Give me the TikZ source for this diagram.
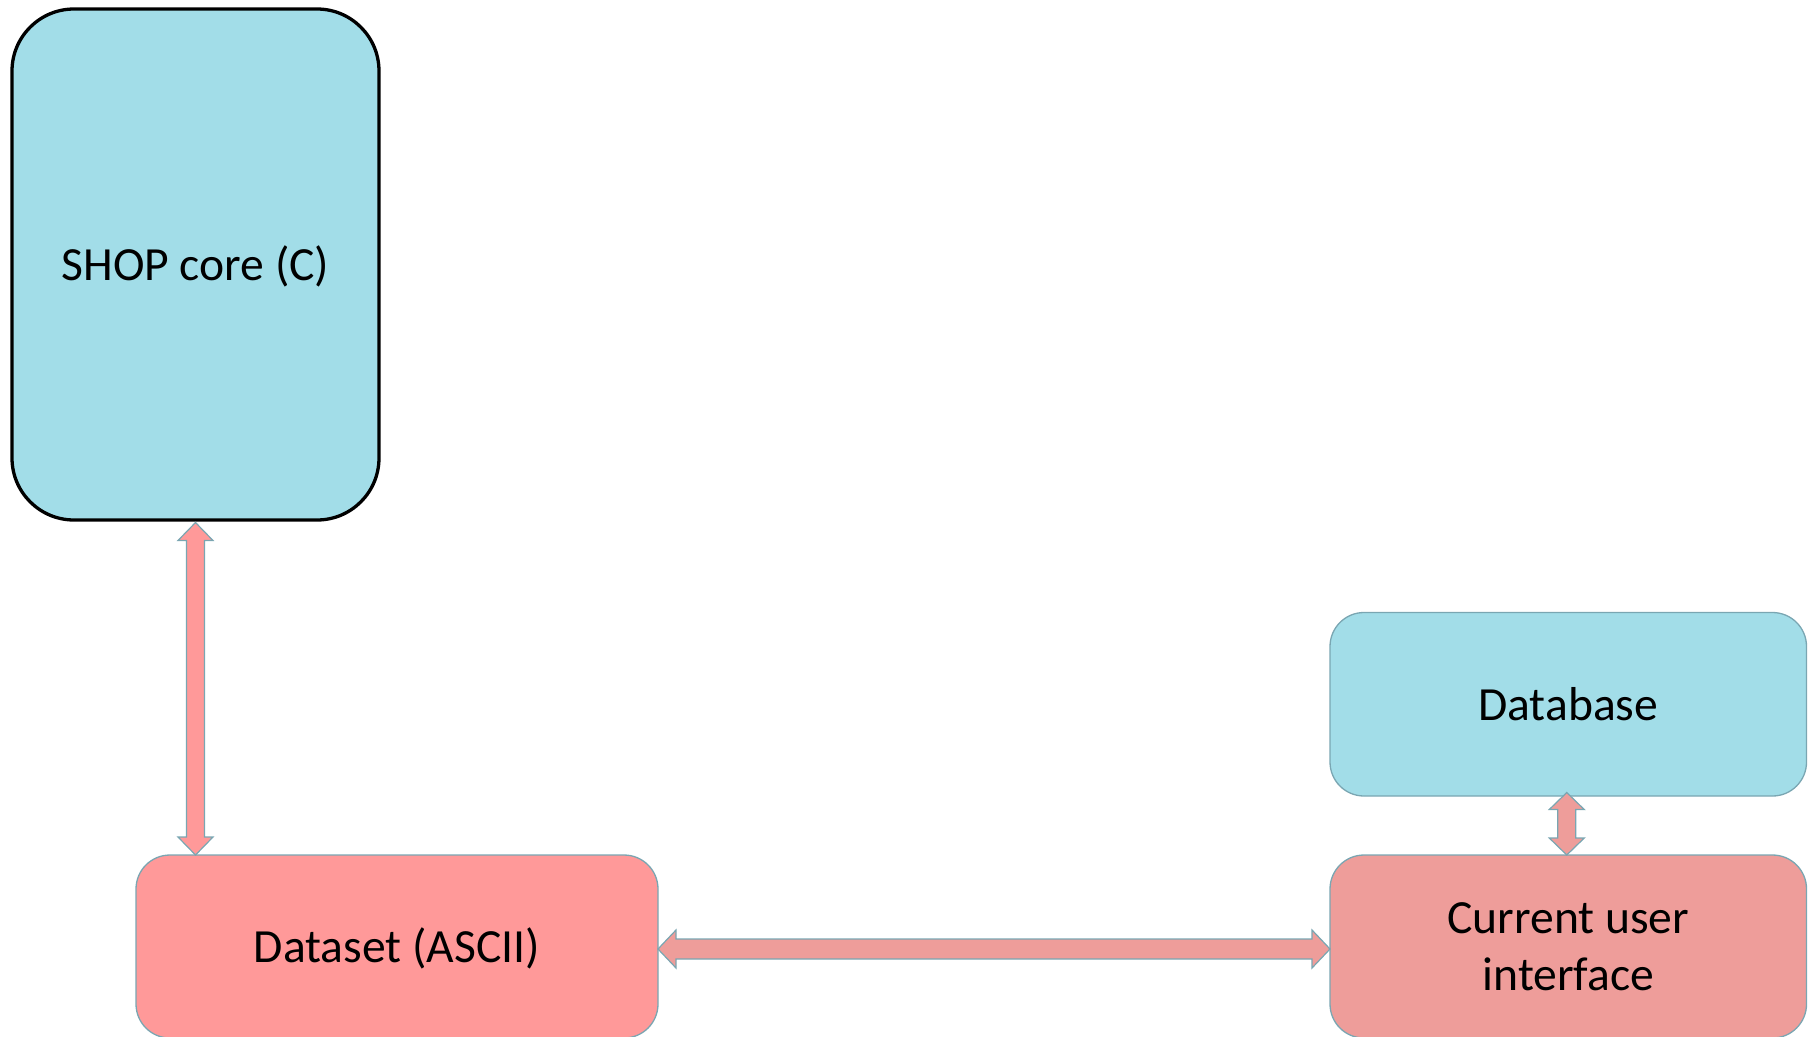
\documentclass[tikz,border=0pt]{standalone}
\usepackage{fontspec}
\setmainfont{Carlito}
\usetikzlibrary{calc}
\definecolor{boxcyan}{RGB}{162,221,232}
\definecolor{boxpink}{RGB}{255,153,153}
\definecolor{boxrose}{RGB}{238,157,154}
\definecolor{edgeblue}{RGB}{122,166,178}
% vertical double block arrow: style, top tip, bottom tip, shaft half width, head half width, head length
\newcommand\vblockarrow[6]{%
  \path[#1] let \p1=#2, \p2=#3 in
    (\x1,\y1) -- (\x1+#5,\y1-#6) -- (\x1+#4,\y1-#6) -- (\x1+#4,\y2+#6)
    -- (\x1+#5,\y2+#6) -- (\x1,\y2) -- (\x1-#5,\y2+#6) -- (\x1-#4,\y2+#6)
    -- (\x1-#4,\y1-#6) -- (\x1-#5,\y1-#6) -- cycle;}
% horizontal double block arrow: style, left tip, right tip, shaft half width, head half width, head length
\newcommand\hblockarrow[6]{%
  \path[#1] let \p1=#2, \p2=#3 in
    (\x1,\y1) -- (\x1+#6,\y1+#5) -- (\x1+#6,\y1+#4) -- (\x2-#6,\y1+#4)
    -- (\x2-#6,\y1+#5) -- (\x2,\y1) -- (\x2-#6,\y1-#5) -- (\x2-#6,\y1-#4)
    -- (\x1+#6,\y1-#4) -- (\x1+#6,\y1-#5) -- cycle;}
\begin{document}
\begin{tikzpicture}[x=1pt,y=-1pt,
  basebox/.style={rectangle, inner sep=0pt, outer sep=0pt,
    font=\fontsize{47.6}{57}\selectfont},
  onelinetext/.style={text height=32pt, text depth=0pt},
  softbox/.style={basebox, draw=edgeblue, line width=1.3pt, rounded corners=34pt},
  shopbox/.style={basebox, onelinetext, draw=black, line width=3.3pt, rounded corners=62pt,
    fill=boxcyan, minimum width=367pt, minimum height=511pt},
  blockarrow/.style={fill=#1, draw=edgeblue, line width=1.2pt, line join=miter}
]
\useasboundingbox (0,0) rectangle (1811,1036);
\clip (0,0) rectangle (1811,1036);

\node[shopbox] (shop) at (195.5,264.5) {SHOP core (C)};
\node[softbox, onelinetext, fill=boxpink, minimum width=522pt, minimum height=183pt]
  (data) at (397,946.5) {Dataset (ASCII)};
\node[softbox, onelinetext, fill=boxcyan, minimum width=476.5pt, minimum height=183.5pt]
  (db) at (1568.25,704.25) {Database};
\node[softbox, align=center, fill=boxrose, minimum width=476.5pt, minimum height=183pt]
  (cui) at (1568.25,946.5) {Current user\\interface};

\vblockarrow{blockarrow=boxpink}{([yshift=-2.5pt]shop.south)}{(shop.south |- data.north)}{9pt}{17.5pt}{18pt}
\hblockarrow{blockarrow=boxrose}{([yshift=-2.5pt]data.east)}{([yshift=-2.5pt]data.east -| cui.west)}{10pt}{19pt}{18pt}
\vblockarrow{blockarrow=boxrose}{([xshift=-1.5pt,yshift=3.5pt]db.south)}{([xshift=-1.5pt]cui.north)}{9pt}{17.5pt}{17pt}
\end{tikzpicture}
\end{document}
